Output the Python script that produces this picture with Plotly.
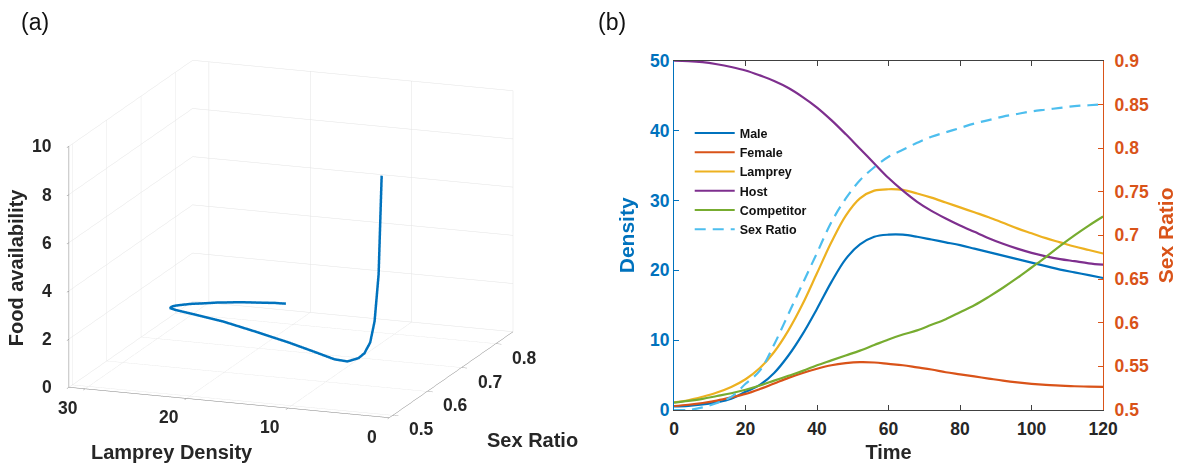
import plotly.graph_objects as go

# ---------------- data ----------------
time = [0, 4, 8, 12, 16, 20, 24, 28, 32, 36, 40, 44, 48, 52, 56, 60,
        64, 68, 72, 76, 80, 84, 88, 92, 96, 100, 104, 108, 112, 116, 120]

male = [0.5, 0.6, 0.8, 1.1, 1.6, 2.6, 3.6, 5.3, 7.8, 10.9, 14.5, 18.3, 21.6, 23.7, 24.8, 25.1,
        25.1, 24.8, 24.4, 24.0, 23.6, 23.1, 22.6, 22.1, 21.6, 21.1, 20.6, 20.1, 19.7, 19.3, 18.9]

female = [0.57, 0.75, 1.0, 1.35, 1.8, 2.3, 3.0, 3.8, 4.6, 5.3, 5.9, 6.4, 6.7, 6.85, 6.8, 6.6,
          6.4, 6.1, 5.8, 5.4, 5.1, 4.8, 4.5, 4.2, 3.95, 3.75, 3.6, 3.5, 3.4, 3.35, 3.3]

lamprey = [1.1, 1.4, 1.9, 2.5, 3.3, 4.4, 6.0, 8.3, 11.4, 15.2, 19.6, 24.0, 27.8, 30.3, 31.4, 31.6,
           31.5, 31.0, 30.4, 29.7, 29.0, 28.3, 27.6, 26.8, 26.0, 25.3, 24.6, 24.0, 23.4, 22.9, 22.4]

host = [50.0, 49.95, 49.8, 49.5, 49.1, 48.6, 47.9, 47.1, 46.1, 44.8, 43.3, 41.5, 39.5, 37.4, 35.3, 33.2,
        31.4, 29.8, 28.5, 27.4, 26.4, 25.5, 24.6, 23.8, 23.1, 22.5, 22.0, 21.6, 21.3, 21.0, 20.8]

competitor = [1.05, 1.3, 1.6, 2.0, 2.4, 2.9, 3.5, 4.2, 4.9, 5.6, 6.4, 7.1, 7.8, 8.5, 9.3, 10.1,
              10.8, 11.4, 12.2, 13.0, 14.0, 15.0, 16.2, 17.5, 18.9, 20.4, 21.9, 23.5, 25.0, 26.4, 27.7]

sex_ratio = [0.5, 0.5, 0.503, 0.508, 0.515, 0.53, 0.545, 0.575, 0.61, 0.645, 0.68, 0.715, 0.742, 0.763, 0.778, 0.79,
             0.798, 0.806, 0.813, 0.818, 0.823, 0.828, 0.832, 0.836, 0.839, 0.842, 0.844, 0.846, 0.848, 0.849, 0.85]

food = [9.9, 5.8, 3.8, 2.85, 2.3, 1.9, 1.55, 1.25, 1.08, 0.98, 0.9, 0.8, 0.68, 0.55, 0.44, 0.38,
        0.34, 0.32, 0.31, 0.3, 0.3, 0.3, 0.29, 0.29, 0.29, 0.28, 0.28, 0.28, 0.28, 0.27, 0.27]

series_names = ["Male", "Female", "Lamprey", "Host", "Competitor"]
series_values = [male, female, lamprey, host, competitor]
series_colors = ["#0072BD", "#D95319", "#EDB120", "#7E2F8E", "#77AC30"]

# tick labels
time_ticks = [0, 20, 40, 60, 80, 100, 120]
density_ticks = [0, 10, 20, 30, 40, 50]
ratio_ticks = [0.5, 0.55, 0.6, 0.65, 0.7, 0.75, 0.8, 0.85, 0.9]
ratio_ticktext = ["0.5", "0.55", "0.6", "0.65", "0.7", "0.75", "0.8", "0.85", "0.9"]
lamprey3d_ticks = [0, 10, 20, 30]
ratio3d_ticks = [0.5, 0.6, 0.7, 0.8]
food3d_ticks = [0, 2, 4, 6, 8, 10]

L_RANGE = [31.6, 0]
S_RANGE = [0.49, 0.85]
F_RANGE = [0, 10]

FONT = "Liberation Sans, Arial, sans-serif"
DARK = "#262626"
BLUE = "#0072BD"
ORANGE = "#D95319"

fig = go.Figure()

# ---------------- (a) 3D trajectory ----------------
fig.add_trace(go.Scatter3d(
    x=lamprey, y=sex_ratio, z=food, mode="lines",
    line=dict(color=BLUE, width=5), showlegend=False, hoverinfo="skip",
    scene="scene"))

# ---------------- (b) time series ----------------
for name, vals, col in zip(series_names, series_values, series_colors):
    fig.add_trace(go.Scatter(
        x=time, y=vals, mode="lines", name=name,
        line=dict(color=col, width=2.2, shape="spline"),
        xaxis="x", yaxis="y", hoverinfo="skip"))

fig.add_trace(go.Scatter(
    x=time, y=sex_ratio, mode="lines", name="Sex Ratio",
    line=dict(color="#4DBEEE", width=2.2, dash="11px,7px", shape="spline"),
    xaxis="x", yaxis="y2", hoverinfo="skip"))

tickfont3d = dict(family=FONT, size=17.5, color=DARK, weight="bold")
titlefont3d = dict(family=FONT, size=20, color=DARK, weight="bold")
axis3d = dict(showbackground=False, gridcolor="#e3e3e3", gridwidth=1,
              showline=True, linecolor="#808080", linewidth=1,
              ticks="outside", tickcolor="#808080", ticklen=6,
              showspikes=False, zeroline=False, showticklabels=False,
              title=dict(text=""))

# scene annotations: tick labels and axis titles kept horizontal like the reference
scene_ann = []
for v in food3d_ticks:
    scene_ann.append(dict(x=L_RANGE[0], y=S_RANGE[0], z=v, text=str(v), showarrow=False,
                          xanchor="right", yanchor="middle", xshift=-15, font=tickfont3d))
for v in lamprey3d_ticks:
    scene_ann.append(dict(x=v, y=S_RANGE[0], z=F_RANGE[0], text=str(v), showarrow=False,
                          xanchor="center", yanchor="middle", xshift=-18, yshift=-19, font=tickfont3d))
for v in ratio3d_ticks:
    scene_ann.append(dict(x=0, y=v, z=F_RANGE[0], text=str(v), showarrow=False,
                          xanchor="center", yanchor="middle", xshift=28, yshift=-14, font=tickfont3d))
scene_ann.append(dict(x=L_RANGE[0], y=S_RANGE[0], z=5, text="Food availability", showarrow=False,
                      textangle=-90, xanchor="center", yanchor="middle", xshift=-54, font=titlefont3d))
scene_ann.append(dict(x=21.5, y=S_RANGE[0], z=F_RANGE[0], text="Lamprey Density", showarrow=False,
                      xanchor="center", yanchor="middle", yshift=-55, font=titlefont3d))
scene_ann.append(dict(x=0, y=S_RANGE[0], z=F_RANGE[0], text="Sex Ratio", showarrow=False,
                      xanchor="center", yanchor="middle", xshift=143, yshift=-22, font=titlefont3d))

view_dir = (0.335, -0.906, 0.257)
k = 2.0
zoom3d = 1.0986

fig.update_layout(
    template="none",
    width=1179, height=466,
    margin=dict(l=0, r=0, t=0, b=0, pad=0),
    paper_bgcolor="white", plot_bgcolor="white",
    font=dict(family=FONT, color=DARK),
    showlegend=True,
    hovermode=False,
    scene=dict(
        domain=dict(x=[0.0072, 0.4872], y=[0.0, 0.974]),
        xaxis=dict(range=L_RANGE, tickvals=lamprey3d_ticks, **axis3d),
        yaxis=dict(range=S_RANGE, tickvals=ratio3d_ticks, **axis3d),
        zaxis=dict(range=F_RANGE, tickvals=food3d_ticks, **axis3d),
        aspectmode="manual",
        aspectratio=dict(x=1.37 * zoom3d, y=1.43 * zoom3d, z=1.0 * zoom3d),
        camera=dict(
            eye=dict(x=view_dir[0] * k, y=view_dir[1] * k, z=view_dir[2] * k),
            up=dict(x=0, y=0, z=1),
            center=dict(x=0, y=0, z=0),
            projection=dict(type="orthographic")),
        bgcolor="white",
        annotations=scene_ann,
    ),
    xaxis=dict(domain=[0.5717, 0.9356], range=[0, 120], tickvals=time_ticks,
               showline=True, linecolor="#404040", linewidth=1, mirror="ticks",
               ticks="inside", ticklen=5, tickcolor="#404040", ticklabelstandoff=3,
               showgrid=False, zeroline=False, layer="above traces", automargin=False,
               tickfont=dict(family=FONT, size=17.5, color=DARK, weight="bold"),
               title=dict(text="Time", font=dict(family=FONT, size=20, color=DARK, weight="bold"),
                          standoff=7),
               anchor="y"),
    yaxis=dict(domain=[0.1202, 0.8697], range=[0, 50], tickvals=density_ticks,
               showline=True, linecolor=BLUE, linewidth=1,
               ticks="inside", ticklen=5, tickcolor=BLUE,
               showgrid=False, zeroline=False, layer="above traces", automargin=False,
               tickfont=dict(family=FONT, size=17.5, color=BLUE, weight="bold"),
               title=dict(text="Density", font=dict(family=FONT, size=21, color=BLUE, weight="bold"),
                          standoff=9),
               anchor="x"),
    yaxis2=dict(range=[0.5, 0.9], tickvals=ratio_ticks, ticktext=ratio_ticktext,
                overlaying="y", side="right", anchor="x",
                showline=True, linecolor=ORANGE, linewidth=1,
                ticks="inside", ticklen=5, tickcolor=ORANGE, ticklabelstandoff=7,
                showgrid=False, zeroline=False, layer="above traces", automargin=False,
                tickfont=dict(family=FONT, size=17.5, color=ORANGE, weight="bold"),
                title=dict(text="Sex Ratio", font=dict(family=FONT, size=21, color=ORANGE, weight="bold"),
                           standoff=10)),
    legend=dict(x=0.585, y=0.746, xanchor="left", yanchor="top",
                bgcolor="rgba(0,0,0,0)", borderwidth=0,
                font=dict(family=FONT, size=12.5, color="#111111", weight="bold"),
                tracegroupgap=0, itemwidth=40),
    annotations=[
        dict(text="(a)", x=35 / 1179, y=1 - 22 / 466, xref="paper", yref="paper",
             showarrow=False, font=dict(family=FONT, size=23, color="#111111"),
             xanchor="center", yanchor="middle"),
        dict(text="(b)", x=612 / 1179, y=1 - 22 / 466, xref="paper", yref="paper",
             showarrow=False, font=dict(family=FONT, size=23, color="#111111"),
             xanchor="center", yanchor="middle"),
    ],
)

fig.write_html("out.html", config={"displayModeBar": False})
